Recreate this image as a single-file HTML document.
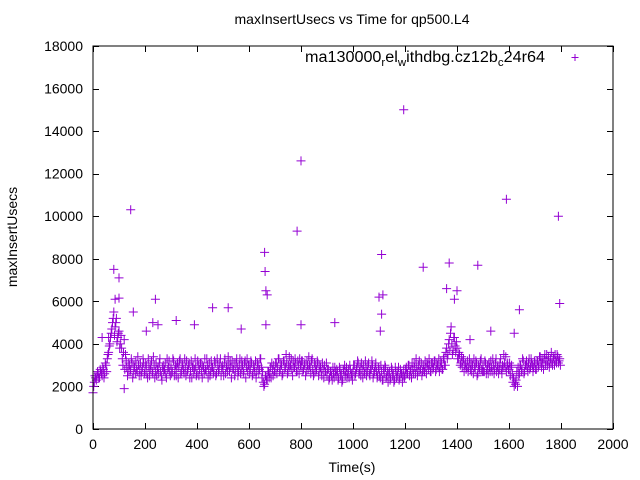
<!DOCTYPE html>
<html><head><meta charset="utf-8"><style>
body{margin:0;background:#fff}
svg{display:block;font-family:"Liberation Sans",sans-serif}
</style></head><body>
<svg width="640" height="480" xmlns="http://www.w3.org/2000/svg">
<rect width="640" height="480" fill="#fff"/>
<text x="352" y="24" font-size="14" text-anchor="middle">maxInsertUsecs vs Time for qp500.L4</text>
<text x="352" y="472" font-size="14" text-anchor="middle">Time(s)</text>
<text transform="translate(17,237) rotate(-90)" font-size="14" text-anchor="middle">maxInsertUsecs</text>
<g id="ticks"></g>
<g id="pts"></g>
<rect x="93" y="46" width="520" height="383" fill="none" stroke="#000" stroke-width="1"/>
<g>
<text x="305" y="62" font-size="15.5" textLength="240" lengthAdjust="spacingAndGlyphs">ma130000<tspan dy="4" font-size="11">r</tspan><tspan dy="-4">el</tspan><tspan dy="4" font-size="11">w</tspan><tspan dy="-4">ithdbg.cz12b</tspan><tspan dy="4" font-size="11">c</tspan><tspan dy="-4">24r64</tspan></text>
<path d="M571.5 57.5h7M575 54v7" stroke="#9400d3" stroke-width="1"/>
</g>
</svg>
<script>
const xTicks=[0,200,400,600,800,1000,1200,1400,1600,1800,2000];
const yTicks=[0,2000,4000,6000,8000,10000,12000,14000,16000,18000];
const step=5;
const values=[
17,22,24,25,26,24,27,25,28,26,30,33,36,40,45,50,55,48,52,43,
46,40,38,30,42,35,29,27,30,28,31,26,29,32,27,30,28,25,29,31,
27,30,24,29,28,32,26,30,27,25,29,31,27,23,30,28,26,33,29,27,
30,27,32,28,25,31,29,33,27,30,26,29,32,28,31,27,24,30,28,29,
26,30,28,31,24,29,33,27,30,28,25,32,29,27,31,26,30,28,33,29,
28,31,26,30,34,27,29,32,28,25,31,29,27,33,28,30,26,32,29,27,
30,28,31,26,29,32,27,30,28,33,24,22,21,25,23,27,26,24,28,30,
27,31,29,33,28,30,26,32,29,31,27,34,30,28,32,29,31,27,30,33,
29,32,28,31,27,30,34,29,32,28,26,30,28,31,27,29,25,28,30,27,
25,28,24,27,23,26,29,25,27,24,28,26,23,27,25,29,26,24,28,26,
27,30,26,29,31,27,25,28,30,26,29,27,31,25,28,30,26,29,27,25,
28,24,27,23,26,29,25,22,27,24,28,26,23,27,25,29,24,26,22,28,
25,29,26,30,27,24,28,31,26,29,27,32,28,25,30,27,29,31,28,30,
27,31,29,32,28,30,33,29,31,28,34,30,38,35,42,45,40,37,43,36,
38,33,35,31,29,33,30,28,32,29,31,27,30,33,28,31,26,29,32,28,
30,27,31,28,26,29,32,27,30,28,33,29,26,31,28,30,35,29,27,31,
28,25,30,22,20,21,27,29,26,30,28,32,27,30,29,31,28,33,30,29,
31,28,32,30,34,29,31,33,30,35,32,29,33,31,34,30,32,35,31,33];
const values2=[
20,25,23,27,24,28,26,29,24,31,27,35,39,43,47,52,44,50,41,45,
38,44,33,36,28,32,25,31,27,33,24,30,26,28,34,25,31,27,33,26,
31,26,33,25,30,27,34,24,31,28,26,33,25,29,27,31,24,28,32,25,
26,33,25,30,29,24,32,26,31,28,33,25,27,30,24,32,29,26,33,25,
32,25,31,27,30,26,28,33,24,31,27,29,26,32,25,33,27,31,25,30,
25,33,29,27,30,32,24,28,31,27,33,25,30,26,32,27,31,24,33,30,
26,32,25,30,27,24,31,26,33,29,27,20,25,23,27,24,29,31,25,27,
31,26,33,27,31,25,32,28,35,26,30,29,33,25,29,33,27,32,26,30,
32,27,30,25,32,28,30,26,33,25,31,27,32,25,30,27,31,24,27,31,
28,23,27,25,29,24,27,28,23,29,25,22,28,30,27,24,28,30,25,23,
30,25,28,32,26,29,31,24,27,32,25,30,26,28,32,24,27,31,24,29,
25,30,23,28,30,24,27,26,23,29,25,22,29,24,27,23,28,26,25,24,
28,26,30,25,28,31,26,29,33,25,30,27,31,27,28,32,26,30,33,27,
31,28,32,27,31,29,27,32,28,33,30,36,33,40,37,48,35,43,39,41,
33,36,30,34,32,27,31,29,27,33,28,31,26,29,32,25,30,28,33,27,
27,32,26,30,31,27,29,33,26,31,27,30,28,33,26,29,31,34,30,28,
31,29,26,24,22,23,20,25,30,27,33,26,30,32,27,33,29,31,27,32,
28,32,29,34,31,33,28,35,32,30,34,31,36,30,33,35,31,34,32,30];
const outT=[145,80,100,85,100,240,230,155,320,390,460,520,570,660,662,665,670,665,785,800,800,930,1110,1100,1115,1110,1105,1195,1270,1370,1360,1400,1390,1480,1530,1590,1640,1790,1795,120,60,35,205,250,1450,1620];
const outV=[10300,7500,7100,6100,6150,6100,5000,5500,5100,4900,5700,5700,4700,8300,7400,6500,6300,4900,9300,12600,4900,5000,8200,6200,6300,5400,4600,15000,7600,7800,6600,6500,6100,7700,4600,10800,5600,10000,5900,1900,4300,4300,4600,4900,4200,4500];
const X=t=>93+t*520/2000, Y=v=>429-v*383/18000;
const NS="http://www.w3.org/2000/svg";
const tg=document.getElementById('ticks');
let d='';
xTicks.forEach(t=>{const x=Math.round(X(t))+.5;d+=`M${x} 429v-6M${x} 46v6`;
 const tx=document.createElementNS(NS,'text');tx.setAttribute('x',X(t));tx.setAttribute('y',449);tx.setAttribute('font-size','14');tx.setAttribute('text-anchor','middle');tx.textContent=t;
 
 
 tg.appendChild(tx);});
yTicks.forEach(v=>{const y=Math.round(Y(v))+.5;d+=`M93 ${y}h6M613 ${y}h-6`;
 const tx=document.createElementNS(NS,'text');tx.setAttribute('x',83);tx.setAttribute('y',Y(v)+5);tx.setAttribute('font-size','14');tx.setAttribute('text-anchor','end');tx.textContent=v;
 
 
 tg.appendChild(tx);});
const tp=document.createElementNS(NS,'path');tp.setAttribute('d',d);tp.setAttribute('stroke','#000');


tg.appendChild(tp);
let pd='';
const plus=(t,v)=>{const x=X(t),y=Y(v);pd+=`M${(x-4.5).toFixed(1)} ${y.toFixed(1)}h9M${x.toFixed(1)} ${(y-4.5).toFixed(1)}v9`;};
values.forEach((v,i)=>plus(i*step,v*100));
values2.forEach((v,i)=>plus(i*step+2.5,v*100));
outT.forEach((t,i)=>plus(t,outV[i]));
const pp=document.createElementNS(NS,'path');pp.setAttribute('d',pd);pp.setAttribute('stroke','#9400d3');pp.setAttribute('fill','none');


document.getElementById('pts').appendChild(pp);
</script>
</body></html>
